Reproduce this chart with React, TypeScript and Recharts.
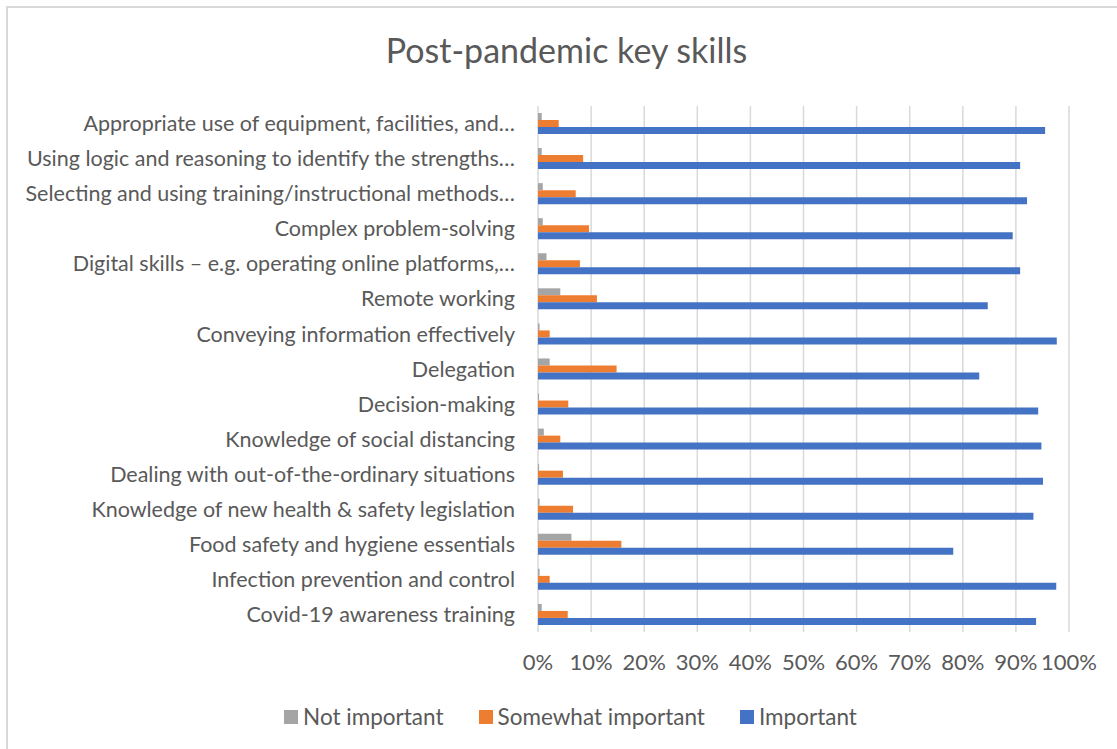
import React from 'react';
import { BarChart, Bar, XAxis, YAxis, CartesianGrid, Legend } from 'recharts';

const categories = [
  'Appropriate use of equipment, facilities, and…',
  'Using logic and reasoning to identify the strengths…',
  'Selecting and using training/instructional methods…',
  'Complex problem-solving',
  'Digital skills – e.g. operating online platforms,…',
  'Remote working',
  'Conveying information effectively',
  'Delegation',
  'Decision-making',
  'Knowledge of social distancing',
  'Dealing with out-of-the-ordinary situations',
  'Knowledge of new health & safety legislation',
  'Food safety and hygiene essentials',
  'Infection prevention and control',
  'Covid-19 awareness training',
];

const notImportant = [0.007, 0.007, 0.009, 0.009, 0.016, 0.042, 0.003, 0.022, 0.002, 0.011, 0.002, 0.003, 0.063, 0.003, 0.007];
const somewhatImportant = [0.039, 0.085, 0.071, 0.096, 0.079, 0.111, 0.022, 0.148, 0.057, 0.042, 0.047, 0.066, 0.157, 0.022, 0.056];
const important = [0.955, 0.908, 0.921, 0.894, 0.908, 0.847, 0.977, 0.831, 0.942, 0.948, 0.951, 0.933, 0.782, 0.976, 0.938];

const xTicks = [0, 0.1, 0.2, 0.3, 0.4, 0.5, 0.6, 0.7, 0.8, 0.9, 1];

const seriesNames = ['Not important', 'Somewhat important', 'Important'];
const seriesKeys = ['notImportant', 'somewhatImportant', 'important'];
const seriesColors = ['#a5a5a5', '#ed7d31', '#4472c4'];

const data = categories.map((name, i) => ({
  name,
  notImportant: notImportant[i],
  somewhatImportant: somewhatImportant[i],
  important: important[i],
}));

const FONT = 'Lato, "Noto Sans", sans-serif';
const TEXT = '#595959';

const renderLegend = () => (
  <div style={{ display: 'flex', justifyContent: 'center', alignItems: 'center', fontFamily: FONT, fontSize: 22.5, color: TEXT }}>
    {seriesNames.map((n, i) => (
      <div key={n} style={{ display: 'flex', alignItems: 'center', marginRight: i < seriesNames.length - 1 ? 35 : 0 }}>
        <span style={{ display: 'inline-block', width: 14, height: 14, background: seriesColors[i], marginRight: 5 }} />
        <span>{n}</span>
      </div>
    ))}
  </div>
);

export default function App() {
  return (
    <div style={{ position: 'absolute', left: 0, top: 0, width: 1117, height: 749, background: '#fff', overflow: 'hidden' }}>
      <div style={{ position: 'absolute', left: 6, top: 6, width: 1200, height: 800, border: '2px solid #d9d9d9', boxSizing: 'border-box' }} />
      <div style={{ position: 'absolute', left: 0, top: 29, width: 1133, textAlign: 'center', fontFamily: FONT, fontSize: 34, color: TEXT, lineHeight: '42px' }}>
        Post-pandemic key skills
      </div>
      <div style={{ position: 'absolute', left: 0, top: 0 }}>
        <BarChart
          width={1117}
          height={749}
          data={data}
          layout="vertical"
          margin={{ top: 106, right: 48, bottom: 87, left: 0 }}
          barCategoryGap={7}
          barGap={0}
        >
          <CartesianGrid horizontal={false} stroke="#d9d9d9" strokeWidth={1.5} />
          <XAxis
            type="number"
            domain={[0, 1]}
            ticks={xTicks}
            tickFormatter={(v: number) => `${Math.round(v * 100)}%`}
            axisLine={false}
            tickLine={false}
            tickMargin={16}
            interval={0}
            height={30}
            tick={{ fill: TEXT, fontSize: 22, fontFamily: FONT }}
          />
          <YAxis
            type="category"
            dataKey="name"
            width={538}
            axisLine={false}
            tickLine={false}
            tickMargin={17}
            interval={0}
            tick={{ fill: TEXT, fontSize: 21.5, fontFamily: FONT }}
          />
          <Legend
            layout="horizontal"
            verticalAlign="middle"
            align="center"
            wrapperStyle={{ top: 703, left: 0, width: 1141 }}
            content={renderLegend}
          />
          {seriesKeys.map((k, i) => (
            <Bar key={k} dataKey={k} name={seriesNames[i]} fill={seriesColors[i]} isAnimationActive={false} />
          ))}
        </BarChart>
      </div>
    </div>
  );
}
